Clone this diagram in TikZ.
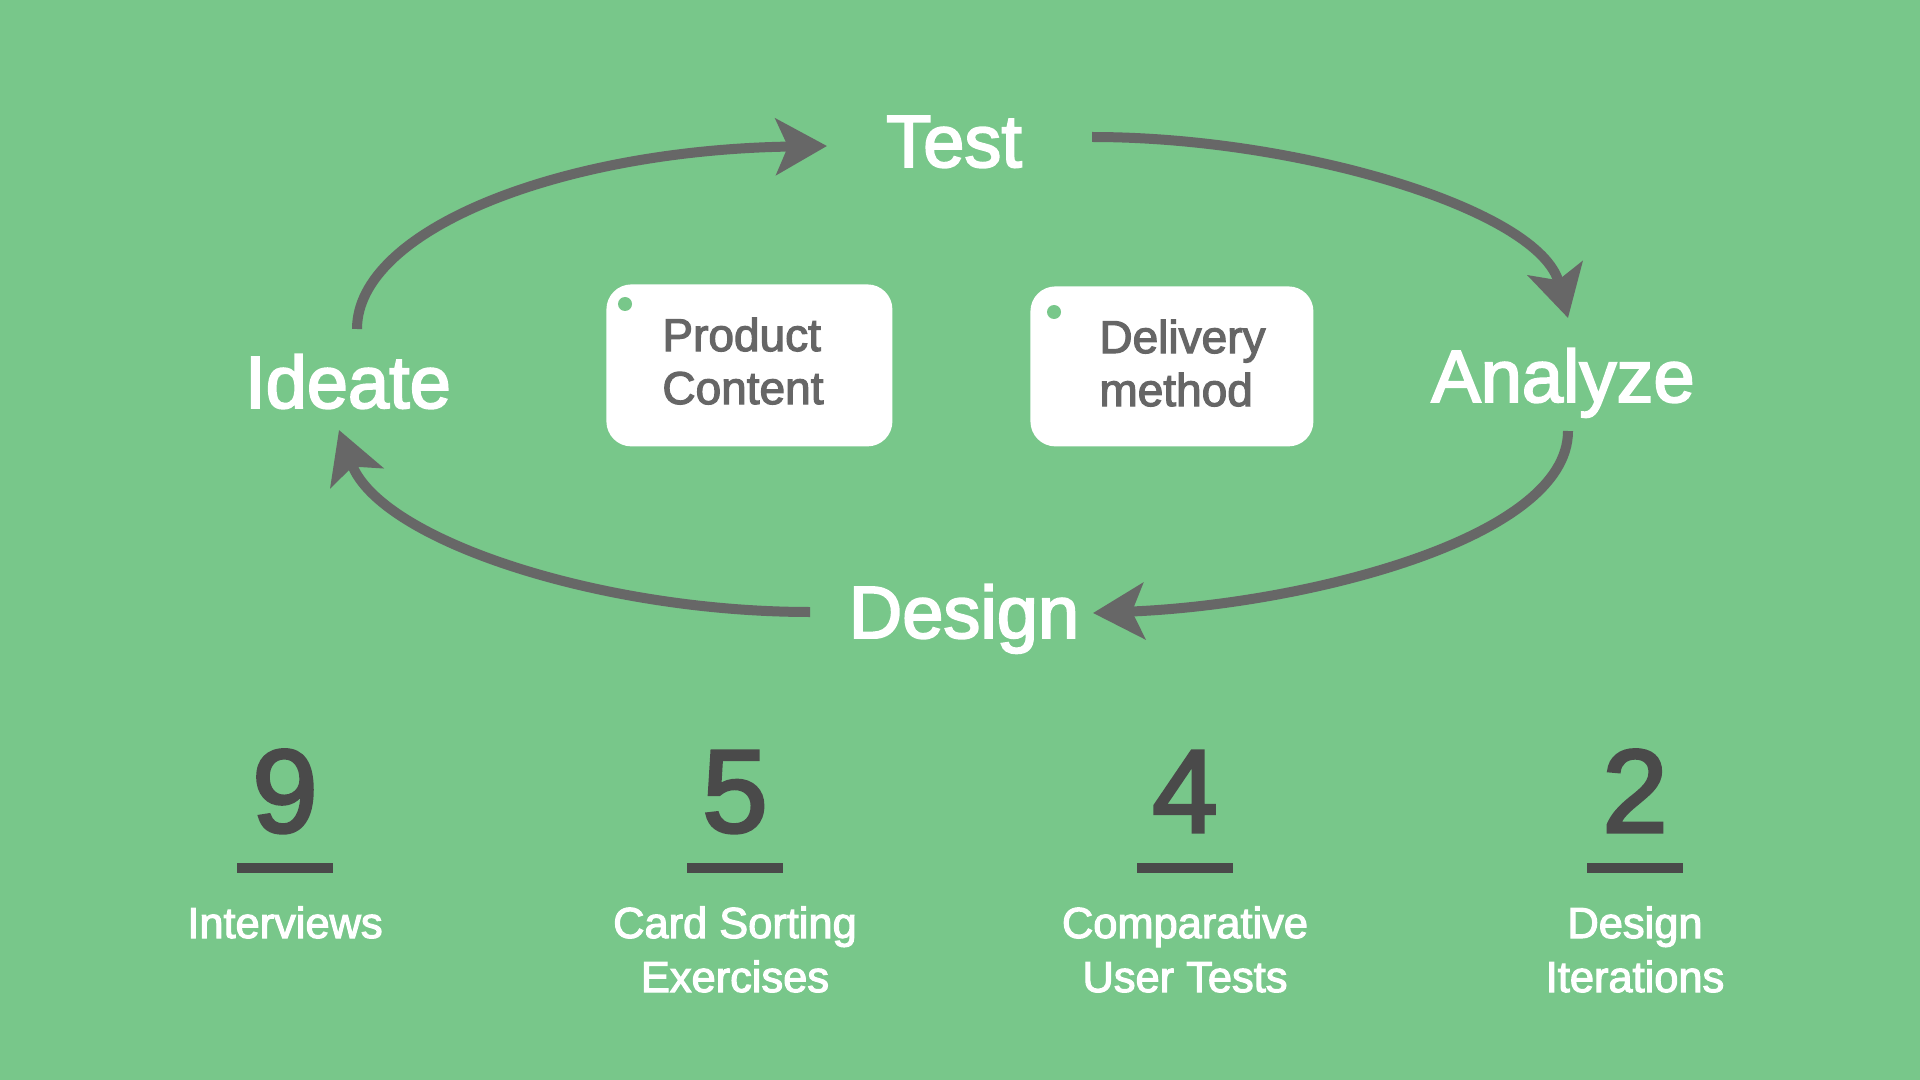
\documentclass[tikz,border=0pt]{standalone}
\usepackage{fontspec}
\setmainfont{Liberation Sans}[BoldFont={Liberation Sans}, BoldFeatures={FakeBold=2.6}]
\usetikzlibrary{arrows.meta,positioning}

\definecolor{bggreen}{RGB}{120,199,138}
\definecolor{arrgray}{RGB}{103,103,103}
\definecolor{boxtext}{RGB}{102,102,102}
\definecolor{numdark}{RGB}{74,74,74}

\begin{document}
\begin{tikzpicture}[
  x=0.5pt, y=-0.5pt,
  stage/.style={text=white, font=\bfseries\fontsize{37}{44}\selectfont, anchor=base, inner sep=0pt},
  card/.style={fill=white, rounded corners=12.5pt, minimum height=80pt, anchor=north west, inner sep=0pt},
  cardtxt/.style={align=left, anchor=base west, inner sep=0pt, text=boxtext, font=\bfseries\fontsize{23}{26.5}\selectfont},
  num/.style={text=numdark, font=\bfseries\fontsize{59}{60}\selectfont, anchor=base, inner sep=0pt},
  lbl/.style={text=white, font=\bfseries\fontsize{21.7}{27}\selectfont, align=center, anchor=base, inner sep=0pt},
  cyc/.style={line width=5pt, draw=arrgray, -{Stealth[length=25.5pt, width=28pt, inset=6pt]}}
]
\fill[bggreen] (0,0) rectangle (1920,1080);
\useasboundingbox (0,0) rectangle (1920,1080);

% cycle stages
\node[stage] (test) at (954,167) {Test};
\node[stage] (ideate) at (348,408) {Ideate};
\node[stage] (analyze) at (1563,402) {Analyze};
\node[stage] (design) at (964,638) {Design};

% arrow ends
\coordinate (i-out) at (357,329);
\coordinate (t-in) at (827,146);
\coordinate (t-out) at (1092,137);
\coordinate (a-in) at (1568,318);
\coordinate (a-out) at (1568,431);
\coordinate (d-in) at (1093,613);
\coordinate (d-out) at (810,612);
\coordinate (i-in) at (339,430);

\draw[cyc] (i-out) .. controls (357,230) and (560,150) .. (t-in);
\draw[cyc] (t-out) .. controls (1300,137) and (1540,210) .. (a-in);
\draw[cyc] (a-out) .. controls (1568,540) and (1300,605) .. (d-in);
\draw[cyc] (d-out) .. controls (600,612) and (380,540) .. (i-in);

% cards
\node[card, minimum width=143pt, minimum height=81pt] (prod) at (606,284) {};
\node[card, minimum width=141.5pt] (deliv) at (1030,286) {};
\fill[bggreen] (prod.north west) ++(19,20) circle (3.5pt);
\fill[bggreen] (deliv.north west) ++(24,26) circle (3.5pt);
\node[cardtxt] (prod-txt) at (662,404) {Product\\Content};
\node[cardtxt] (deliv-txt) at (1099,406) {Delivery\\method};

% numbers
\foreach \x/\n/\name/\yy/\txt in {285/9/nine/938/Interviews, 735/5/five/992/Card Sorting\\Exercises,
    1185/4/four/992/Comparative\\User Tests, 1635/2/two/992/Design\\Iterations} {
  \node[num] (\name) at (\x,832) {\n};
  \fill[numdark] (\x-48,863) rectangle (\x+48,873);
  \node[lbl] (\name-lbl) at (\x,\yy) {\txt};
}
\end{tikzpicture}
\end{document}
